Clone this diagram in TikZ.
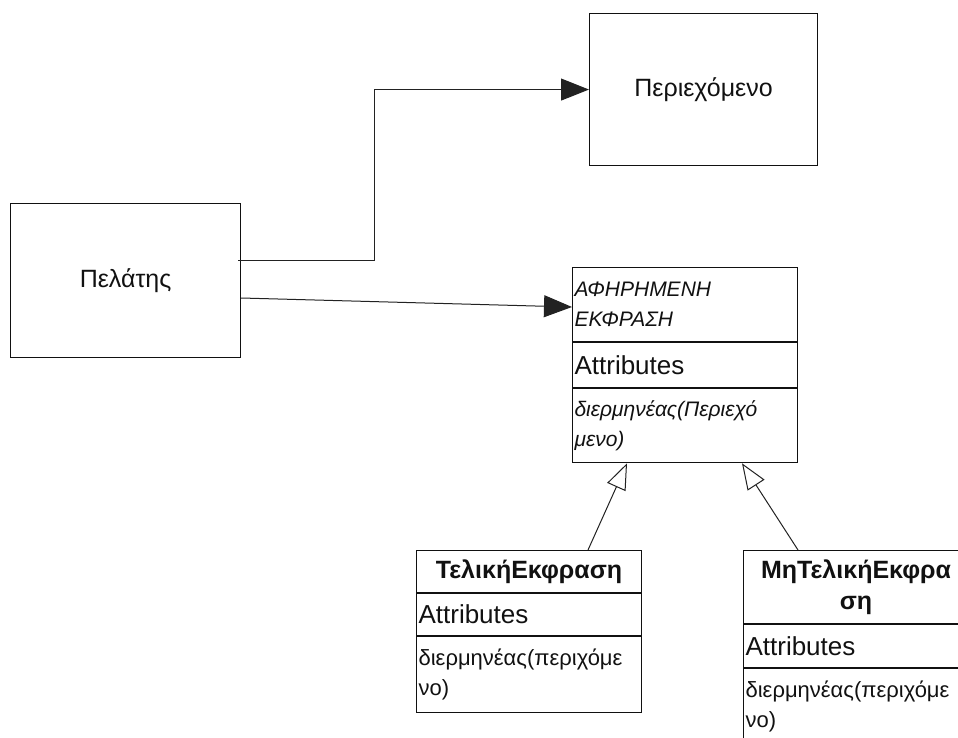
\documentclass[tikz,border=0pt]{standalone}
\usepackage{fontspec}
\setmainfont{Liberation Sans}
\usetikzlibrary{arrows.meta,calc}
\definecolor{ink}{HTML}{111111}
\definecolor{wire}{HTML}{222222}

\tikzset{
  plainbox/.style={draw=ink, line width=1.1pt, inner sep=0pt, anchor=north west,
    text=ink, font=\fontsize{25}{30}\selectfont},
  umlpart/.style={draw=ink, line width=1.1pt, anchor=north west, text=ink,
    inner xsep=2pt, inner ysep=0pt, text width=221pt, align=left},
  umltitle/.style={umlpart, align=center, font=\fontsize{25}{31}\selectfont\bfseries},
  assoc/.style={draw=wire, line width=1pt, -{Triangle[length=28pt,width=22pt]}},
  inherit/.style={draw=wire, line width=1pt, -{Triangle[open,length=26pt,width=20pt,fill=white]}}
}

\begin{document}
\begin{tikzpicture}[x=1pt,y=-1pt]
\useasboundingbox (0,0) rectangle (958,738);
\clip (0,0) rectangle (958,738);

% client and context
\node[plainbox, minimum width=230pt, minimum height=154pt] (client) at (10,203) {Πελάτης};
\node[plainbox, minimum width=228pt, minimum height=152pt] (content) at (589,13) {Περιεχόμενο};

% abstract expression
\node[umlpart, minimum height=74pt, font=\fontsize{21}{30}\selectfont\itshape] (absname) at (572,267)
  {ΑΦΗΡΗΜΕΝΗ\\ΕΚΦΡΑΣΗ};
\node[umlpart, minimum height=45pt, font=\fontsize{26}{30}\selectfont] (absattr) at (absname.south west) {Attributes};
\node[umlpart, minimum height=74pt, font=\fontsize{21}{30}\selectfont\itshape] (absops) at (absattr.south west)
  {διερμηνέας(Περιεχό\\μενο)};

% terminal expression
\node[umltitle, minimum height=42pt] (termname) at (416,550) {ΤελικήΕκφραση};
\node[umlpart, minimum height=42pt, font=\fontsize{26}{30}\selectfont] (termattr) at (termname.south west) {Attributes};
\node[umlpart, minimum height=76pt, font=\fontsize{22}{30}\selectfont] (termops) at (termattr.south west)
  {διερμηνέας(περιχόμε\\νο)};

% nonterminal expression
\node[umltitle, minimum height=73pt] (ntermname) at (743,550) {ΜηΤελικήΕκφρα\\ση};
\node[umlpart, minimum height=43pt, font=\fontsize{26}{30}\selectfont] (ntermattr) at (ntermname.south west) {Attributes};
\node[umlpart, minimum height=76pt, font=\fontsize{22}{30}\selectfont] (ntermops) at (ntermattr.south west)
  {διερμηνέας(περιχόμε\\νο)};

% connectors
\draw[assoc] ($(client.north east)+(-3,57)$) -- ++(136,0) |- (content.west);
\draw[assoc] ($(client.north east)+(0,95)$) -- ($(absname.north west)+(0,40)$);
\draw[inherit] ($(termname.north west)+(172,0)$) -- ($(absops.south west)+(55,0)$);
\draw[inherit] ($(ntermname.north west)+(55,0)$) -- ($(absops.south west)+(170,0)$);
\end{tikzpicture}
\end{document}
